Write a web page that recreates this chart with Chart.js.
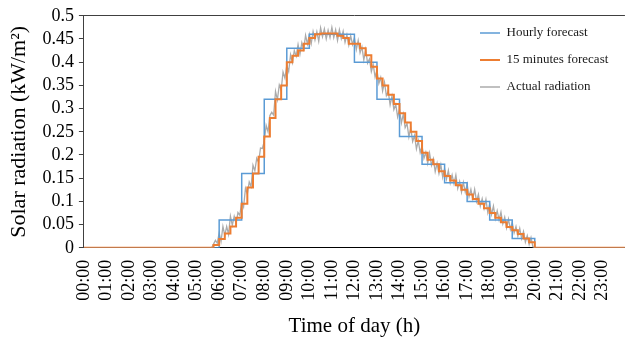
<!DOCTYPE html>
<html><head><meta charset="utf-8">
<script src="https://cdn.jsdelivr.net/npm/chart.js@4.4.1/dist/chart.umd.min.js"></script>
<style>
html,body{margin:0;padding:0;background:#fff;overflow:hidden;}
#wrap{position:relative;width:636px;height:342px;}
canvas{display:block;}
</style></head><body>
<div id="wrap"><canvas id="c" width="636" height="342"></canvas></div>
<script>
// ---- data ----
const hourLabels = ["00:00","01:00","02:00","03:00","04:00","05:00","06:00","07:00","08:00","09:00","10:00","11:00",
  "12:00","13:00","14:00","15:00","16:00","17:00","18:00","19:00","20:00","21:00","22:00","23:00"];
const yTickLabels = ["0","0.05","0.1","0.15","0.2","0.25","0.3","0.35","0.4","0.45","0.5"];
const seriesNames = ["Hourly forecast","15 minutes forecast","Actual radiation"];

// hourly forecast, one value per hour (00:00 ... 23:00)
const hourlyForecast = [0,0,0,0,0,0,0.06,0.16,0.32,0.43,0.46,0.46,0.40,0.32,0.24,0.18,0.14,0.10,0.06,0.02,0,0,0,0];

// 15-minute forecast, four values per hour
const quarterForecast = [
  0,0,0,0, 0,0,0,0, 0,0,0,0, 0,0,0,0, 0,0,0,0,
  0,0,0,0.006,
  0.019,0.031,0.046,0.065,
  0.095,0.13,0.16,0.196,
  0.24,0.28,0.32,0.35,
  0.40,0.414,0.425,0.44,
  0.452,0.46,0.462,0.462,
  0.462,0.457,0.452,0.44,
  0.44,0.43,0.415,0.39,
  0.365,0.35,0.33,0.31,
  0.29,0.27,0.25,0.23,
  0.205,0.19,0.18,0.165,
  0.155,0.145,0.135,0.125,
  0.115,0.105,0.095,0.085,
  0.075,0.065,0.055,0.045,
  0.038,0.03,0.02,0.012,
  0,0,0,0, 0,0,0,0, 0,0,0,0, 0,0,0,0
];

// actual radiation, 5-minute readings from 05:40 to 20:00
const actualStartHour = 5 + 40/60;
const actualRadiation = [
  0.000,0.008,0.016,0.010,
  0.032,0.014,0.046,0.027,0.046,0.029,0.068,0.049,0.068,0.052,0.076,0.070,
  0.100,0.088,0.128,0.116,0.142,0.132,0.178,0.166,0.193,0.184,0.215,0.214,
  0.229,0.264,0.250,0.285,0.292,0.286,0.337,0.319,0.351,0.340,0.379,0.366,
  0.393,0.380,0.416,0.399,0.425,0.413,0.438,0.417,0.442,0.428,0.458,0.439,
  0.460,0.440,0.466,0.448,0.466,0.445,0.474,0.455,0.472,0.450,0.469,0.453,
  0.475,0.453,0.470,0.447,0.470,0.451,0.467,0.443,0.459,0.437,0.457,0.438,
  0.453,0.427,0.447,0.420,0.433,0.405,0.427,0.398,0.407,0.380,0.395,0.368,
  0.383,0.354,0.367,0.338,0.357,0.328,0.337,0.308,0.327,0.298,0.309,0.282,
  0.298,0.269,0.288,0.259,0.268,0.239,0.258,0.229,0.242,0.213,0.231,0.205,
  0.220,0.193,0.206,0.182,0.204,0.178,0.192,0.164,0.182,0.160,0.179,0.152,
  0.171,0.148,0.167,0.140,0.157,0.138,0.157,0.128,0.143,0.120,0.141,0.120,
  0.137,0.110,0.126,0.105,0.126,0.100,0.115,0.090,0.106,0.085,0.104,0.076,
  0.095,0.072,0.090,0.063,0.080,0.060,0.077,0.052,0.066,0.043,0.062,0.040,
  0.055,0.032,0.046,0.025,0.042,0.020,0.035,0.012,0.026,0.007,0.022,0.002,
  0.000
];

// ---- build points ----
const hourlyPts = hourlyForecast.map((v, i) => ({x: i, y: v}));
hourlyPts.push({x: 24, y: hourlyForecast[hourlyForecast.length - 1]});
const quarterPts = quarterForecast.map((v, i) => ({x: i / 4, y: v}));
quarterPts.push({x: 24, y: quarterForecast[quarterForecast.length - 1]});
const actualPts = actualRadiation.map((v, i) => ({x: actualStartHour + i / 12, y: v}));

const SERIF = "'Liberation Serif', 'Times New Roman', serif";

const legendPlacer = {
  id: 'legendPlacer',
  afterLayout(chart) {
    const lg = chart.legend;
    if (!lg) return;
    lg.left = 466; lg.right = 634; lg.top = 12.5; lg.bottom = 200;
    lg.width = lg.right - lg.left; lg.height = lg.bottom - lg.top;
  }
};

new Chart(document.getElementById('c'), {
  type: 'line',
  data: {
    datasets: [
      {label: seriesNames[0], data: hourlyPts, borderColor: '#5B9BD5', backgroundColor: '#5B9BD5',
       borderWidth: 1.5, pointRadius: 0, stepped: true, fill: false, order: 1},
      {label: seriesNames[1], data: quarterPts, borderColor: '#ED7D31', backgroundColor: '#ED7D31',
       borderWidth: 2, pointRadius: 0, stepped: true, fill: false, order: 0},
      {label: seriesNames[2], data: actualPts, borderColor: '#ABABAB', backgroundColor: '#ABABAB',
       borderWidth: 1.3, pointRadius: 0, tension: 0, fill: false, order: 2}
    ]
  },
  options: {
    responsive: false,
    devicePixelRatio: 1,
    animation: false,
    layout: {padding: {top: 15, right: 0, left: 0, bottom: 0}},
    plugins: {
      tooltip: {enabled: false},
      legend: {
        position: 'chartArea',
        align: 'start',
        labels: {
          usePointStyle: true,
          pointStyle: 'line',
          pointStyleWidth: 20,
          padding: 14,
          color: '#1a1a1a',
          font: {family: SERIF, size: 13},
          sort: (a, b) => a.datasetIndex - b.datasetIndex
        }
      }
    },
    scales: {
      x: {
        type: 'linear', min: 0, max: 24,
        grid: {display: false, drawTicks: false},
        border: {display: true, color: '#000', width: 1},
        ticks: {
          stepSize: 1, autoSkip: false, minRotation: 90, maxRotation: 90,
          padding: 12, color: '#000',
          font: {family: SERIF, size: 18},
          callback: (v) => (hourLabels[v] !== undefined ? hourLabels[v] : null)
        },
        title: {display: true, text: 'Time of day (h)', color: '#000',
          font: {family: SERIF, size: 21}, padding: {top: 1, bottom: 3}}
      },
      y: {
        min: 0, max: 0.5,
        grid: {
          drawOnChartArea: true,
          color: (ctx) => (ctx.tick && Math.abs(ctx.tick.value - 0.5) < 1e-6 ? '#404040' : 'rgba(0,0,0,0)'),
          tickColor: '#404040', tickLength: 5, lineWidth: 1
        },
        border: {display: true, color: '#404040', width: 1},
        ticks: {
          stepSize: 0.05, autoSkip: false, padding: 5, color: '#000',
          font: {family: SERIF, size: 18},
          callback: (v, i) => yTickLabels[i]
        },
        title: {display: true, text: 'Solar radiation (kW/m²)', color: '#000',
          font: {family: SERIF, size: 22}, padding: {top: 6, bottom: 5}}
      }
    }
  },
  plugins: [legendPlacer]
});
</script>
</body></html>
